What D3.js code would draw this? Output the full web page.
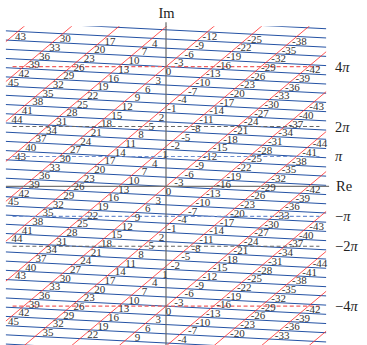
<!DOCTYPE html>
<html><head><meta charset="utf-8">
<script src="https://cdn.jsdelivr.net/npm/d3@7"></script>
<style>
body{margin:0;background:#fff}
svg{display:block}
</style></head><body>
<svg id="chart" width="367" height="345"></svg>
<script>
const PI = Math.PI;

// Lattice generator: point n sits at n·(stepRe + i·stepIm), taken modulo periodIm on the imaginary axis
const stepRe = -0.3613;
const stepIm = 3.885;
const periodIm = 4 * PI;

// label increments between neighbouring points along each line family
const redStep = 3;
const blueStep = -13;

// labelled integers and the window that holds the labelled points
const labelRange = [-44, 45];
const labelReBound = 16.35;
const labelImBounds = [-15.6, 16.35];

// plotted window (same half-width on both axes)
const extent = 16.8;

// reference levels on the imaginary axis
const refLevels = [4 * PI, 2 * PI, PI, -PI, -2 * PI, -4 * PI];
const refCoef = ["4", "2", "", "−", "−2", "−4"];
const refKinds = ["red", "gray", "blue", "blue", "gray", "red"];

const dashColor = { red: "#f06060", gray: "#666666", blue: "#6f8fd0" };
const serif = "'Liberation Serif', 'DejaVu Serif', 'Times New Roman', serif";

const svg = d3.select("#chart").attr("font-family", serif);
const pxPerUnit = 9.53;
const cx = 166, cy = 186.4;
const x = d3.scaleLinear().domain([-extent, extent]).range([cx - extent * pxPerUnit, cx + extent * pxPerUnit]);
const y = d3.scaleLinear().domain([-extent, extent]).range([cy + extent * pxPerUnit, cy - extent * pxPerUnit]);

const wrap = v => v - periodIm * Math.round(v / periodIm);

// short lattice vectors along the two families of lines
const vRed = { re: redStep * stepRe, im: wrap(redStep * stepIm) };
const vBlue = { re: blueStep * stepRe, im: wrap(blueStep * stepIm) };

svg.append("defs").append("clipPath").attr("id", "plot")
  .append("rect")
  .attr("x", x(-extent)).attr("y", y(extent))
  .attr("width", x(extent) - x(-extent)).attr("height", y(-extent) - y(extent));

const g = svg.append("g").attr("clip-path", "url(#plot)");

function familyLines(step, dir, count) {
  return d3.range(-count, count + 1).map(m => {
    const p = { re: m * step.re, im: m * step.im };
    const L = 60;
    return [[p.re - L * dir.re, p.im - L * dir.im], [p.re + L * dir.re, p.im + L * dir.im]];
  });
}

const line = d3.line().x(d => x(d[0])).y(d => y(d[1]));

// blue family: through multiples of vRed, running along vBlue
g.selectAll("path.blue").data(familyLines(vRed, vBlue, 30)).join("path")
  .attr("class", "blue").attr("d", line)
  .attr("fill", "none").attr("stroke", "#2452a4").attr("stroke-width", 1);

// red family: through multiples of vBlue, running along vRed
g.selectAll("path.red").data(familyLines(vBlue, vRed, 14)).join("path")
  .attr("class", "red").attr("d", line)
  .attr("fill", "none").attr("stroke", "#ff2a2a").attr("stroke-width", 0.8);

// dashed reference levels
svg.selectAll("line.ref").data(refLevels).join("line")
  .attr("class", "ref")
  .attr("x1", x(-16.1)).attr("x2", x(16.1))
  .attr("y1", d => y(d)).attr("y2", d => y(d))
  .attr("stroke", (d, i) => dashColor[refKinds[i]])
  .attr("stroke-width", 1.1)
  .attr("stroke-dasharray", "4,2.6");

// axes
svg.append("line")
  .attr("x1", x(-extent)).attr("x2", x(extent) + 3)
  .attr("y1", y(0)).attr("y2", y(0))
  .attr("stroke", "#777").attr("stroke-width", 1.4);
svg.append("line")
  .attr("x1", x(0)).attr("x2", x(0))
  .attr("y1", y(extent) - 4).attr("y2", y(-extent))
  .attr("stroke", "#666").attr("stroke-width", 1.2);

// lattice labels
const points = [];
for (let n = labelRange[0]; n <= labelRange[1]; n++) {
  const re = n * stepRe;
  const base = wrap(n * stepIm);
  for (let k = -2; k <= 2; k++) {
    const im = base + k * periodIm;
    if (Math.abs(re) <= labelReBound && im >= labelImBounds[0] && im <= labelImBounds[1]) points.push({ n, re, im });
  }
}

svg.selectAll("text.num").data(points).join("text")
  .attr("class", "num")
  .attr("x", d => x(d.re) + 2.5)
  .attr("y", d => y(d.im) + 8.5)
  .attr("text-anchor", "middle")
  .attr("font-size", 11)
  .attr("fill", "#333")
  .text(d => d.n < 0 ? "-" + (-d.n) : String(d.n));

// level names on the right
const refText = svg.selectAll("text.ref").data(refLevels).join("text")
  .attr("class", "ref")
  .attr("x", 335)
  .attr("y", d => y(d))
  .attr("dominant-baseline", "central")
  .attr("font-size", 14.5)
  .attr("fill", "#222");
refText.append("tspan").text((d, i) => refCoef[i]);
refText.append("tspan").attr("font-style", "italic").text("π");

svg.append("text").attr("x", 336).attr("y", y(0)).attr("dominant-baseline", "central")
  .attr("font-size", 14.5).attr("fill", "#222").text("Re");
svg.append("text").attr("x", x(0) + 0.5).attr("y", 18).attr("text-anchor", "middle")
  .attr("font-size", 14.5).attr("fill", "#222").text("Im");
</script>
</body></html>
